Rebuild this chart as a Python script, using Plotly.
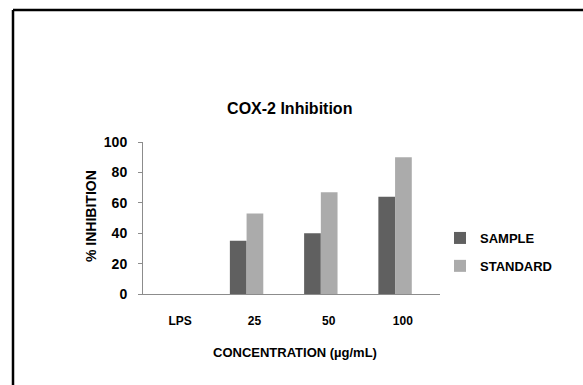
import plotly.graph_objects as go

categories = ["LPS", "25", "50", "100"]
sample = [0, 35, 40, 64]
standard = [0, 53, 67, 90]
series_names = ["SAMPLE", "STANDARD"]
y_ticks = [0, 20, 40, 60, 80, 100]

FONT = "Liberation Sans Narrow, Liberation Sans, Arial"
W, H = 583, 385
L, R, T, B = 143, 143, 142, 91
pw, ph = W - L - R, H - T - B

def px_x(px):
    return (px - L) / pw

def px_y(py):
    return (H - B - py) / ph

fig = go.Figure()
fig.add_trace(go.Bar(x=categories, y=sample, name=series_names[0],
                     marker=dict(color="#606060", line=dict(width=0)),
                     width=0.225, offset=-0.33, legendgroup="a"))
fig.add_trace(go.Bar(x=categories, y=standard, name=series_names[1],
                     marker=dict(color="#ababab", line=dict(width=0)),
                     width=0.225, offset=-0.105, legendgroup="b"))

fig.update_layout(
    width=W, height=H,
    margin=dict(l=L, r=R, t=T, b=B),
    paper_bgcolor="white", plot_bgcolor="white",
    font=dict(family=FONT, color="black", size=11),
    showlegend=True,
    legend=dict(x=px_x(440), y=px_y(223), xanchor="left", yanchor="top",
                font=dict(family=FONT, size=13, color="black", weight="bold"),
                tracegroupgap=8, itemwidth=30, bgcolor="rgba(0,0,0,0)"),
    title=dict(text="<b>COX-2 Inhibition</b>", x=0.497, xref="container",
               y=1 - 108 / H, yref="container", xanchor="center", yanchor="middle",
               font=dict(family=FONT, size=16, color="black")),
    xaxis=dict(type="category", showgrid=False, showline=True, linecolor="#8c8c8c",
               linewidth=1, ticks="", tickfont=dict(family=FONT, size=12, weight="bold"),
               ticklabelstandoff=16),
    yaxis=dict(range=[0, 100], tickvals=y_ticks, showgrid=False, showline=True,
               linecolor="#8c8c8c", linewidth=1, ticks="outside", ticklen=4,
               tickcolor="#8c8c8c", tickfont=dict(family=FONT, size=14, weight="bold"),
               zeroline=False, ticklabelstandoff=8),
    bargap=0.5,
    annotations=[
        dict(text="<b>CONCENTRATION (µg/mL)</b>", xref="paper", yref="paper",
             x=px_x(295), y=px_y(352), xanchor="center", yanchor="middle",
             showarrow=False, font=dict(family=FONT, size=13, color="black")),
        dict(text="<b>% INHIBITION</b>", xref="paper", yref="paper",
             x=px_x(91), y=px_y(216), xanchor="center", yanchor="middle",
             textangle=-90, showarrow=False, font=dict(family=FONT, size=14, color="black")),
    ],
    shapes=[
        dict(type="line", xref="paper", yref="paper", x0=px_x(13), x1=px_x(590),
             y0=px_y(10), y1=px_y(10), line=dict(color="black", width=2.5)),
        dict(type="line", xref="paper", yref="paper", x0=px_x(13), x1=px_x(13),
             y0=px_y(10), y1=px_y(395), line=dict(color="black", width=2.5)),
    ],
)

fig.write_html("out.html")
